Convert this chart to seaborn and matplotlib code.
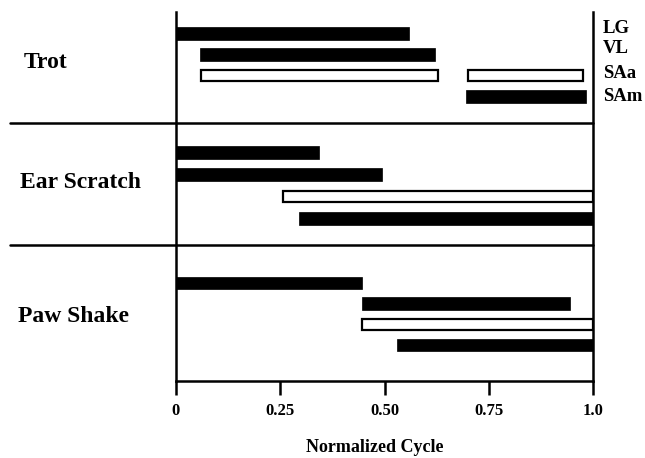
import matplotlib
matplotlib.use("Agg")
import matplotlib.pyplot as plt
import seaborn as sns
import pandas as pd

# ---- data ----
behaviors = ["Trot", "Ear Scratch", "Paw Shake"]
muscles = ["LG", "VL", "SAa", "SAm"]
tick_values = [0, 0.25, 0.5, 0.75, 1.0]
tick_labels = ["0", "0.25", "0.50", "0.75", "1.0"]

burst_behavior = ["Trot", "Trot", "Trot", "Trot", "Trot",
                  "Ear Scratch", "Ear Scratch", "Ear Scratch", "Ear Scratch",
                  "Paw Shake", "Paw Shake", "Paw Shake", "Paw Shake"]
burst_muscle = ["LG", "VL", "SAa", "SAa", "SAm",
                "LG", "VL", "SAa", "SAm",
                "LG", "VL", "SAa", "SAm"]
burst_onset = [0.0, 0.057, 0.060, 0.700, 0.695,
               0.0, 0.0, 0.257, 0.295,
               0.0, 0.447, 0.447, 0.531]
burst_offset = [0.558, 0.621, 0.628, 0.977, 0.984,
                0.343, 0.494, 1.0, 1.0,
                0.447, 0.945, 1.0, 1.0]

df = pd.DataFrame({"behavior": burst_behavior, "muscle": burst_muscle,
                   "onset": burst_onset, "offset": burst_offset})

# ---- layout (positions/styles) ----
sns.set_theme(style="white")
plt.rcParams["font.family"] = ["Liberation Serif", "DejaVu Serif"]
plt.rcParams["font.weight"] = "bold"
plt.rcParams["text.color"] = "black"
plt.rcParams["xtick.color"] = "black"

W, H = 645, 458
fig = plt.figure(figsize=(W / 100, H / 100), dpi=100)
ax = fig.add_axes([176 / W, 1 - 381 / H, 417 / W, 369 / H])

group_base = {"Trot": 21.5, "Ear Scratch": 140.5, "Paw Shake": 271.0}
group_step = {"Trot": 21.0, "Ear Scratch": 22.0, "Paw Shake": 20.7}
separators = [111, 233]
open_muscles = {"SAa"}

for _, r in df.iterrows():
    y = group_base[r.behavior] + group_step[r.behavior] * muscles.index(r.muscle)
    if r.muscle in open_muscles:
        ax.barh(y, r.offset - r.onset, left=r.onset, height=10.5,
                color="white", edgecolor="black", linewidth=1.6, zorder=3)
    else:
        ax.barh(y, r.offset - r.onset, left=r.onset, height=12.5,
                color="black", edgecolor="black", linewidth=0.5, zorder=3)

ax.set_xlim(0, 1.0)
ax.set_ylim(369, 0)
ax.set_yticks([])

for s in separators:
    ax.plot([-0.398, 1.0], [s, s], color="black", lw=1.8, clip_on=False, zorder=4)

for side in ["left", "right", "bottom"]:
    ax.spines[side].set_visible(True)
    ax.spines[side].set_color("black")
    ax.spines[side].set_linewidth(1.8)
ax.spines["top"].set_visible(False)

ax.set_xticks(tick_values)
ax.set_xticklabels(tick_labels, fontsize=12, fontweight="bold", color="black")
ax.tick_params(axis="x", direction="out", length=10, width=1.8, color="black",
               pad=6, bottom=True)

# group labels (baselines in pixel rows)
for name, xl, yb in zip(behaviors, [24, 20, 18], [68, 188, 322]):
    fig.text(xl / W, 1 - yb / H, name, ha="left", va="baseline",
             fontsize=17, fontweight="bold", color="black")

# muscle labels on the right
for name, yb in zip(muscles, [33, 53, 78, 101]):
    fig.text(603 / W, 1 - yb / H, name, ha="left", va="baseline",
             fontsize=13.5, fontweight="bold", color="black")

fig.text(375 / W, 1 - 452 / H, "Normalized Cycle", ha="center", va="baseline",
         fontsize=13, fontweight="bold", color="black")

fig.savefig("out.png", dpi=100)
